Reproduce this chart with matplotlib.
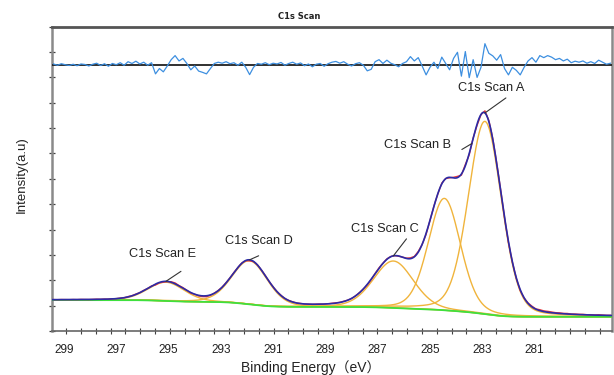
import math
import numpy as np
import matplotlib
matplotlib.use("Agg")
import matplotlib.pyplot as plt

# ---------------- data ----------------
peak_names = ["C1s Scan A", "C1s Scan B", "C1s Scan C", "C1s Scan D", "C1s Scan E"]
peak_centers = [282.9, 284.45, 286.4, 291.9, 295.1]     # eV
peak_heights = [7.6, 4.41, 1.85, 1.72, 0.74]            # a.u. above background
peak_fwhm = [1.5, 1.45, 1.8, 1.6, 1.65]                 # eV
lorentz_fraction = 0.2
bg_steps = [0.21, 0.10, 0.08, 0.20, 0.07]               # background step under each peak
bg_low = 0.56                                           # background level at low BE end

# label anchor energies (where the leader lines touch the envelope)
label_anchor_E = [282.9, 283.4, 286.4, 291.9, 295.1]

x_tick_values = [299, 297, 295, 293, 291, 289, 287, 285, 283, 281]

# fit residual, sampled from 299.40 eV down to 278.10 eV in 0.15 eV steps
residual_start, residual_step = 299.40, 0.15
residual = [
    0.03, -0.02, 0.04, 0.00, -0.03, 0.02, -0.04, 0.03, 0.01, -0.05,
    0.02, 0.06, -0.03, 0.04, -0.06, 0.05, 0.00, 0.08, -0.02, 0.12,
    0.05, 0.14, 0.03, 0.10, -0.02, 0.08, -0.36, -0.15, -0.28, -0.05,
    0.20, 0.36, 0.15, 0.25, 0.05, -0.20, -0.05, -0.25, -0.30, -0.36,
    -0.15, 0.05, 0.10, 0.06, 0.12, 0.04, 0.08, -0.02, 0.10, -0.10,
    -0.39, -0.10, 0.05, 0.02, 0.08, 0.00, 0.06, 0.03, 0.09, -0.02,
    0.05, 0.10, 0.02, 0.07, -0.04, 0.03, -0.08, 0.02, 0.05, -0.06,
    0.04, 0.10, 0.13, 0.06, 0.12, 0.02, -0.05, 0.04, 0.08, -0.02,
    -0.24, -0.18, 0.12, 0.20, 0.05, 0.18, 0.06, 0.00, -0.08, 0.05,
    0.12, 0.32, 0.15, 0.28, -0.05, -0.40, -0.10, 0.10, -0.15, 0.30,
    0.05, -0.20, 0.25, 0.49, -0.45, 0.52, -0.51, 0.20, -0.50, -0.10,
    0.83, 0.45, 0.35, 0.18, 0.40, -0.15, -0.40, -0.10, -0.22, -0.40,
    -0.10, 0.15, 0.28, 0.10, 0.36, 0.28, 0.36, 0.30, 0.20, 0.25,
    0.15, 0.22, 0.08, 0.14, 0.10, 0.15, 0.06, 0.12, 0.05, 0.18,
    0.10, 0.02, 0.06,
]
residual_zero = 10.5
residual_to_data = 0.1

# ---------------- model ----------------
erf = np.vectorize(math.erf)


def component(E, c, h, w):
    r = ((E - c) / (w / 2.0)) ** 2
    return h * ((1 - lorentz_fraction) * np.exp(-np.log(2) * r) + lorentz_fraction / (1 + r))


def background(E):
    b = np.full_like(E, bg_low, dtype=float)
    for c, w, s in zip(peak_centers, peak_fwhm, bg_steps):
        sig = w / 2.3548
        b += s * 0.5 * (1 + erf((E - c) / (sig * np.sqrt(2))))
    return b


def envelope(E):
    tot = background(E)
    for c, h, w in zip(peak_centers, peak_heights, peak_fwhm):
        tot = tot + component(E, c, h, w)
    return tot


xmin, xmax = 299.47, 278.05
E = np.linspace(xmin, xmax, 900)
bg = background(E)
env = envelope(E)

res = np.array(residual)
E_res = residual_start - residual_step * np.arange(len(res))
data = envelope(E_res) + residual_to_data * res

# ---------------- figure ----------------
fig = plt.figure(figsize=(6.14, 3.75), dpi=100)
ax = fig.add_axes([0.0842, 0.1173, 0.9963 - 0.0842, 0.9288 - 0.1173])

for c, h, w in zip(peak_centers, peak_heights, peak_fwhm):
    ax.plot(E, bg + component(E, c, h, w), color="#f0b43c", lw=1.0, zorder=3)
ax.plot(E, bg, color="#3ee03e", lw=1.3, zorder=3.5)
ax.plot(E_res, data, color="#e8383a", lw=1.0, zorder=4)
ax.plot(E, env, color="#2b2ba6", lw=1.2, zorder=5)

# residual panel
ax.axhline(residual_zero, color="#202020", lw=1.3, zorder=3)
ax.plot(E_res, residual_zero + res, color="#3d8fe0", lw=0.9, zorder=4)

# annotations
text_offsets = [(4.3, 18.0), (-38.9, -1.4), (-5.8, 19.4), (6.5, 13.7), (-2.2, 19.4)]
line_offsets = [(15.1, 10.8), (-7.2, -4.3), (9.4, 12.2), (6.5, 2.9), (10.8, 7.2)]
for name, ea, to, lo in zip(peak_names, label_anchor_E, text_offsets, line_offsets):
    ya = float(envelope(np.array([ea]))[0])
    ax.annotate("", xy=(ea, ya), xytext=lo, textcoords="offset points",
                arrowprops=dict(arrowstyle="-", color="#333333", lw=0.8,
                                shrinkA=0, shrinkB=0), zorder=6)
    ax.annotate(name, xy=(ea, ya), xytext=to, textcoords="offset points",
                ha="center", va="center", fontsize=9.2, color="#222222",
                family="Liberation Sans", zorder=6)

ax.set_xlim(xmin, xmax)
ax.set_ylim(0, 12)

ax.set_xticks(x_tick_values)
ax.set_xticklabels([str(v) for v in x_tick_values], family="Liberation Sans",
                   fontsize=8.5, color="#222222")
ax.set_xticks(np.arange(298.92, 278.0, -0.567), minor=True)
ax.tick_params(axis="x", which="major", length=0, pad=9)
ax.tick_params(axis="x", which="minor", length=4, direction="inout",
               color="#404040", width=0.8)
ax.set_yticks(np.arange(0, 13, 1))
ax.tick_params(axis="y", which="major", length=5, direction="inout",
               color="#404040", width=0.9, labelleft=False)

for side, col, lw in [("top", "#555555", 2.0), ("left", "#8a8a8a", 1.8),
                      ("right", "#8a8a8a", 1.8), ("bottom", "#666666", 1.2)]:
    ax.spines[side].set_color(col)
    ax.spines[side].set_linewidth(lw)

fig.text(0.487, 0.955, "C1s Scan", ha="center", va="center", fontsize=6,
         fontweight="bold", color="#222222")
fig.text(0.036, 0.535, "Intensity(a.u)", rotation=90, ha="center", va="center",
         fontsize=9.5, color="#222222", family="Liberation Sans")
fig.text(0.5065, 0.021, "Binding Energy\uff08eV\uff09", ha="center", va="center",
         fontsize=10, color="#222222",
         family=["Liberation Sans", "Noto Sans CJK SC", "DejaVu Sans"])

fig.savefig("out.png", dpi=100)
